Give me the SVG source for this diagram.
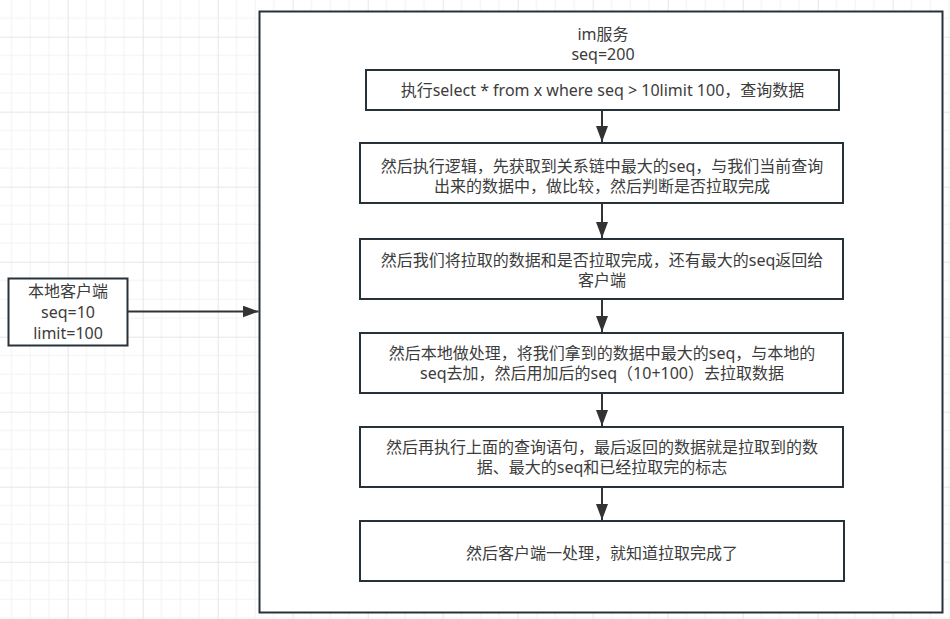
<svg xmlns="http://www.w3.org/2000/svg" width="950" height="619" viewBox="0 0 950 619">
<defs>
<pattern id="grid" patternUnits="userSpaceOnUse" x="67.7" y="36.7" width="75" height="75">
<path d="M18.75 0V75M37.5 0V75M56.25 0V75M0 18.75H75M0 37.5H75M0 56.25H75" stroke="#f2f2f2" stroke-width="1" fill="none"/>
<path d="M0.5 0V75M0 0.5H75" stroke="#e6e6e6" stroke-width="1" fill="none"/>
</pattern>
<marker id="arr" markerUnits="userSpaceOnUse" markerWidth="16" markerHeight="12" refX="16" refY="6" orient="auto">
<path d="M0 0L16 6L0 12Z" fill="#333"/>
</marker>
<style>
.box{fill:#fff;stroke:#263238;stroke-width:2}
.t{font-family:"Noto Sans","Noto Sans CJK SC",sans-serif;font-size:16px;fill:#3c3c3c;text-anchor:middle}
.c{stroke:#333;stroke-width:2;fill:none;marker-end:url(#arr)}
</style>
</defs>
<rect width="950" height="619" fill="#fff"/>
<rect width="950" height="619" fill="url(#grid)"/>
<g id="im-service">
<rect class="box" x="259.5" y="11.5" width="683" height="601"/>
<text class="t" x="603" y="40">im服务</text>
<text class="t" x="603" y="60">seq=200</text>
</g>
<g id="client">
<rect class="box" x="8.5" y="278.5" width="119" height="67"/>
<text class="t" x="68" y="297">本地客户端</text>
<text class="t" x="68" y="318">seq=10</text>
<text class="t" x="68" y="339">limit=100</text>
</g>
<g id="step1">
<rect class="box" x="366" y="70" width="473" height="40"/>
<text class="t" x="602.5" y="96">执行select * from x where seq &gt; 10limit 100，查询数据</text>
</g>
<g id="step2">
<rect class="box" x="360" y="143" width="483" height="60"/>
<text class="t" x="602" y="171.5">然后执行逻辑，先获取到关系链中最大的seq，与我们当前查询</text>
<text class="t" x="602" y="191.5">出来的数据中，做比较，然后判断是否拉取完成</text>
</g>
<g id="step3">
<rect class="box" x="360" y="239" width="483" height="60"/>
<text class="t" x="602" y="266">然后我们将拉取的数据和是否拉取完成，还有最大的seq返回给</text>
<text class="t" x="602" y="286">客户端</text>
</g>
<g id="step4">
<rect class="box" x="360" y="333" width="483" height="60"/>
<text class="t" x="602" y="359">然后本地做处理，将我们拿到的数据中最大的seq，与本地的</text>
<text class="t" x="602" y="379">seq去加，然后用加后的seq（10+100）去拉取数据</text>
</g>
<g id="step5">
<rect class="box" x="360" y="427" width="483" height="60"/>
<text class="t" x="602" y="453">然后再执行上面的查询语句，最后返回的数据就是拉取到的数</text>
<text class="t" x="602" y="473">据、最大的seq和已经拉取完的标志</text>
</g>
<g id="step6">
<rect class="box" x="360" y="521" width="484" height="60"/>
<text class="t" x="602" y="559">然后客户端一处理，就知道拉取完成了</text>
</g>
<g id="connectors">
<path class="c" d="M128 311.5H258.5"/>
<path class="c" d="M602 111V142"/>
<path class="c" d="M602 204V238"/>
<path class="c" d="M602 300V332"/>
<path class="c" d="M602 394V426"/>
<path class="c" d="M602 488V520"/>
</g>
</svg>
